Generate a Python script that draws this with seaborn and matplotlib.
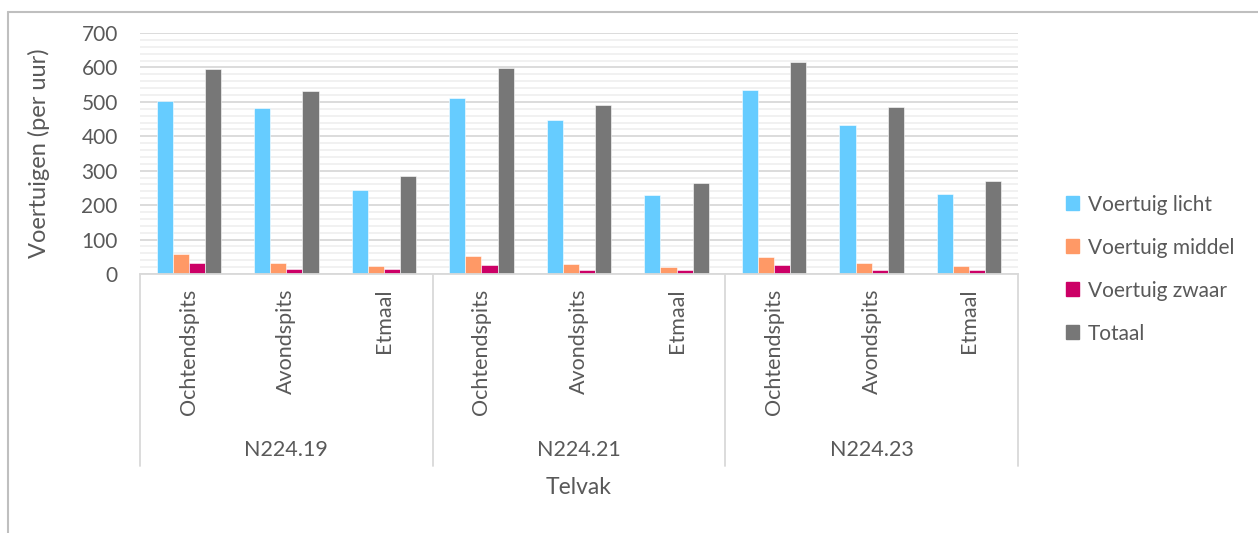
import pandas as pd
import seaborn as sns
import matplotlib.pyplot as plt
from matplotlib.ticker import MultipleLocator
from matplotlib.lines import Line2D
import matplotlib.transforms as mtransforms

# data
telvakken = ["N224.19", "N224.21", "N224.23"]
perioden = ["Ochtendspits", "Avondspits", "Etmaal"]
series = ["Voertuig licht", "Voertuig middel", "Voertuig zwaar", "Totaal"]
licht = [502, 481, 243, 512, 447, 230, 535, 434, 233]
middel = [58, 32, 23, 52, 28, 20, 50, 33, 22]
zwaar = [31, 14, 14, 26, 12, 12, 26, 13, 11]
totaal = [595, 531, 285, 597, 490, 265, 617, 484, 270]
colors = ["#66ccff", "#ff9966", "#cc0066", "#777777"]

rows = []
i = 0
for t in telvakken:
    for p in perioden:
        for s, vals in zip(series, [licht, middel, zwaar, totaal]):
            rows.append({"cat": t + "|" + p, "Telvak": t, "Periode": p,
                         "Serie": s, "Waarde": vals[i]})
        i += 1
df = pd.DataFrame(rows)

sns.set_style("white")
plt.rcParams["font.family"] = ["Lato", "DejaVu Sans"]
txt = "#595959"

fig = plt.figure(figsize=(12.58, 5.33), dpi=100)
ax = fig.add_axes([140 / 1258, 1 - 274 / 533, 878 / 1258, 241 / 533])

sns.barplot(data=df, x="cat", y="Waarde", hue="Serie", palette=colors,
            saturation=1, width=0.66, edgecolor="white", linewidth=0.4,
            ax=ax, legend=False)

ax.set_ylim(0, 700)
ax.set_xlim(-0.5, 8.5)
ax.yaxis.set_major_locator(MultipleLocator(100))
ax.yaxis.set_minor_locator(MultipleLocator(20))
ax.grid(axis="y", which="major", color="#d9d9d9", linewidth=1.3)
ax.grid(axis="y", which="minor", color="#eeeeee", linewidth=1.1)
ax.set_axisbelow(True)
for side in ["top", "right", "left"]:
    ax.spines[side].set_visible(False)
ax.spines["bottom"].set_color("#d9d9d9")
ax.spines["bottom"].set_linewidth(1.3)
ax.tick_params(axis="y", which="both", length=0, pad=16, labelsize=15,
               labelcolor=txt)
ax.tick_params(axis="x", length=0)
ax.set_xticklabels([])
ax.set_xlabel("")
ax.set_ylabel("Voertuigen (per uur)", fontsize=17, color=txt)
ax.yaxis.set_label_coords(-0.103, 0.5)

# multi-level category axis
trans = mtransforms.blended_transform_factory(ax.transData, ax.transAxes)
for k in range(9):
    ax.text(k, -0.06, perioden[k % 3], rotation=90, ha="center", va="top",
            fontsize=15.5, color=txt, transform=trans)
for g in range(3):
    ax.text(3 * g + 1, -0.73, telvakken[g], ha="center", va="center",
            fontsize=15.5, color=txt, transform=trans)
for xb in [-0.5, 2.5, 5.5, 8.5]:
    ax.add_line(Line2D([xb, xb], [0, -0.795], color="#d9d9d9", linewidth=1.3,
                       transform=trans, clip_on=False))
ax.text(4, -0.885, "Telvak", ha="center", va="center", fontsize=16.5,
        color=txt, transform=trans)

# legend
handles = [plt.Rectangle((0, 0), 1, 1, color=c) for c in colors]
leg = fig.legend(handles, series, loc="upper left",
                 bbox_to_anchor=(1047 / 1258, 1 - 176 / 533), frameon=False,
                 fontsize=15, handlelength=0.65, handleheight=0.65,
                 handletextpad=0.4, labelspacing=1.1)
for t in leg.get_texts():
    t.set_color(txt)

# outer chart frame
fig.add_artist(Line2D([8 / 1258, 8 / 1258], [0, 1 - 12 / 533],
                      color="#bfbfbf", linewidth=1.5))
fig.add_artist(Line2D([8 / 1258, 1], [1 - 12 / 533, 1 - 12 / 533],
                      color="#bfbfbf", linewidth=1.5))

fig.savefig("out.png", dpi=100)
